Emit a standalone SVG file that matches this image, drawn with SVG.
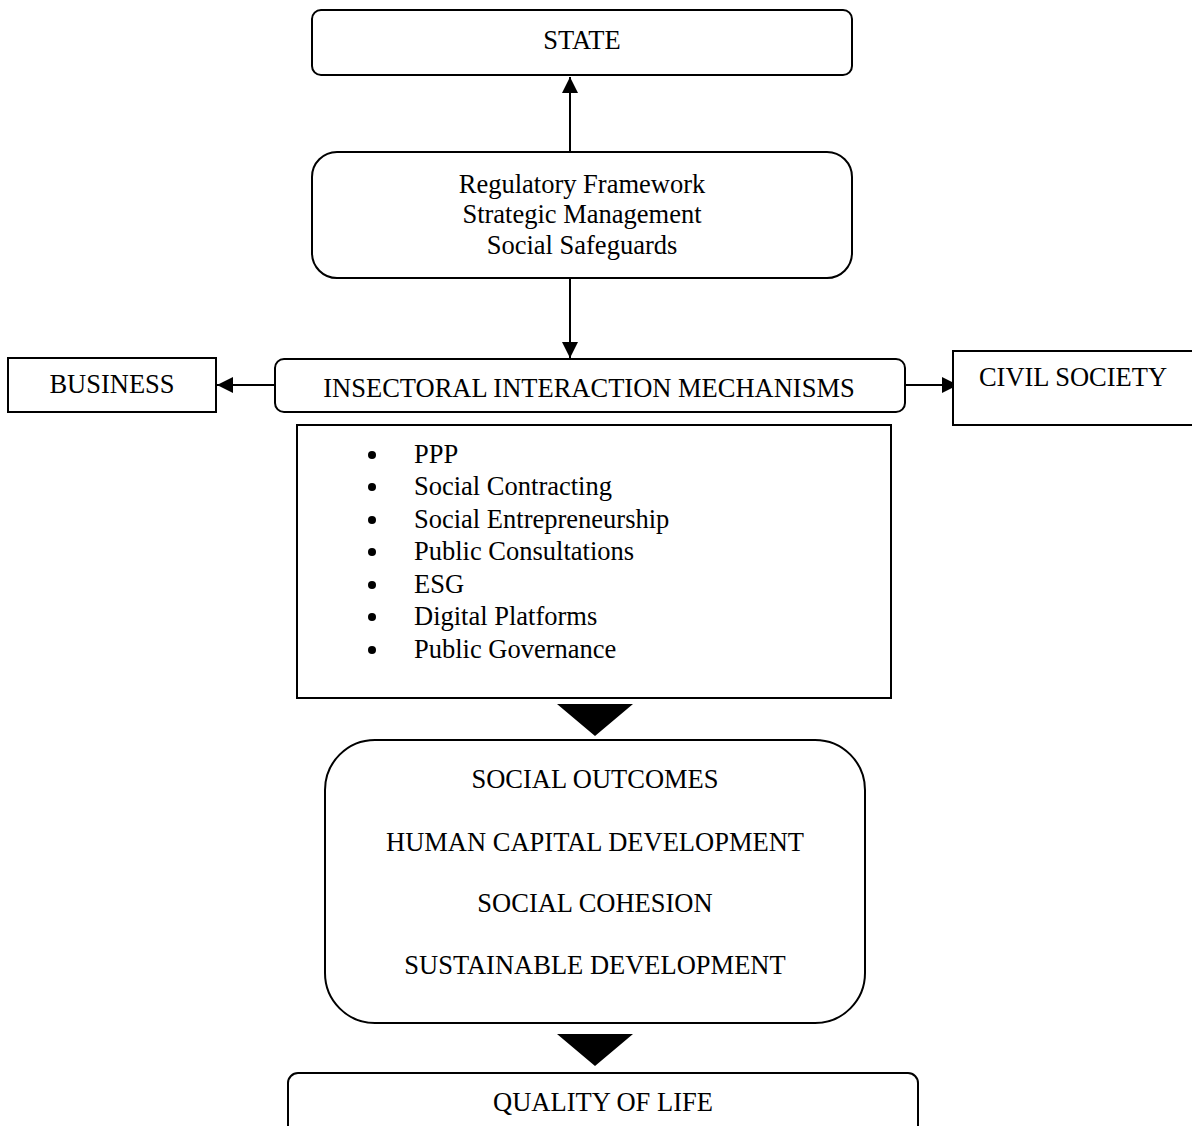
<svg xmlns="http://www.w3.org/2000/svg" width="1192" height="1126" viewBox="0 0 1192 1126">
  <style>
    .box { fill: #ffffff; stroke: #000000; stroke-width: 2; }
    .t { font-family: "Liberation Serif", "Times New Roman", serif; font-size: 26.5px; fill: #000000; }
    .c { text-anchor: middle; }
    .line { stroke: #000000; stroke-width: 2; fill: none; }
  </style>
  <defs>
    <marker id="arr" viewBox="0 0 16 16" refX="16" refY="8" markerWidth="16" markerHeight="16" markerUnits="userSpaceOnUse" orient="auto">
      <path d="M0,0 L16,8 L0,16 z" fill="#000000"/>
    </marker>
  </defs>

  <rect width="1192" height="1126" fill="#ffffff"/>

  <g id="connectors">
    <line class="line" x1="570" y1="152" x2="570" y2="77" marker-end="url(#arr)"/>
    <line class="line" x1="570" y1="279" x2="570" y2="358" marker-end="url(#arr)"/>
    <line class="line" x1="275" y1="385" x2="217" y2="385" marker-end="url(#arr)"/>
    <line class="line" x1="905" y1="385" x2="958" y2="385" marker-end="url(#arr)"/>
    <polygon points="557,704 633,704 595,736" fill="#000000"/>
    <polygon points="557,1034 633,1034 595,1066" fill="#000000"/>
  </g>

  <g id="state">
    <rect class="box" x="312" y="10" width="540" height="65" rx="9"/>
    <text class="t c" x="582" y="49">STATE</text>
  </g>

  <g id="instruments">
    <rect class="box" x="312" y="152" width="540" height="126" rx="25"/>
    <text class="t c" x="582" y="193">Regulatory Framework</text>
    <text class="t c" x="582" y="223">Strategic Management</text>
    <text class="t c" x="582" y="254">Social Safeguards</text>
  </g>

  <g id="business">
    <rect class="box" x="8" y="358" width="208" height="54"/>
    <text class="t c" x="112" y="393">BUSINESS</text>
  </g>

  <g id="mechanisms">
    <rect class="box" x="275" y="359" width="630" height="53" rx="9"/>
    <text class="t c" x="589" y="397">INSECTORAL INTERACTION MECHANISMS</text>
  </g>

  <g id="civil-society">
    <rect class="box" x="953" y="351" width="245" height="74"/>
    <text class="t c" x="1073" y="386">CIVIL SOCIETY</text>
  </g>

  <g id="mechanism-list">
    <rect class="box" x="297" y="425" width="594" height="273"/>
    <g fill="#000000">
      <circle cx="372" cy="455" r="4"/>
      <circle cx="372" cy="487" r="4"/>
      <circle cx="372" cy="520" r="4"/>
      <circle cx="372" cy="552" r="4"/>
      <circle cx="372" cy="585" r="4"/>
      <circle cx="372" cy="617" r="4"/>
      <circle cx="372" cy="650" r="4"/>
    </g>
    <text class="t" x="414" y="463">PPP</text>
    <text class="t" x="414" y="495">Social Contracting</text>
    <text class="t" x="414" y="528">Social Entrepreneurship</text>
    <text class="t" x="414" y="560">Public Consultations</text>
    <text class="t" x="414" y="593">ESG</text>
    <text class="t" x="414" y="625">Digital Platforms</text>
    <text class="t" x="414" y="658">Public Governance</text>
  </g>

  <g id="outcomes">
    <rect class="box" x="325" y="740" width="540" height="283" rx="50"/>
    <text class="t c" x="595" y="788">SOCIAL OUTCOMES</text>
    <text class="t c" x="595" y="851">HUMAN CAPITAL DEVELOPMENT</text>
    <text class="t c" x="595" y="912">SOCIAL COHESION</text>
    <text class="t c" x="595" y="974">SUSTAINABLE DEVELOPMENT</text>
  </g>

  <g id="quality-of-life">
    <rect class="box" x="288" y="1073" width="630" height="70" rx="10"/>
    <text class="t c" x="603" y="1111">QUALITY OF LIFE</text>
  </g>
</svg>
